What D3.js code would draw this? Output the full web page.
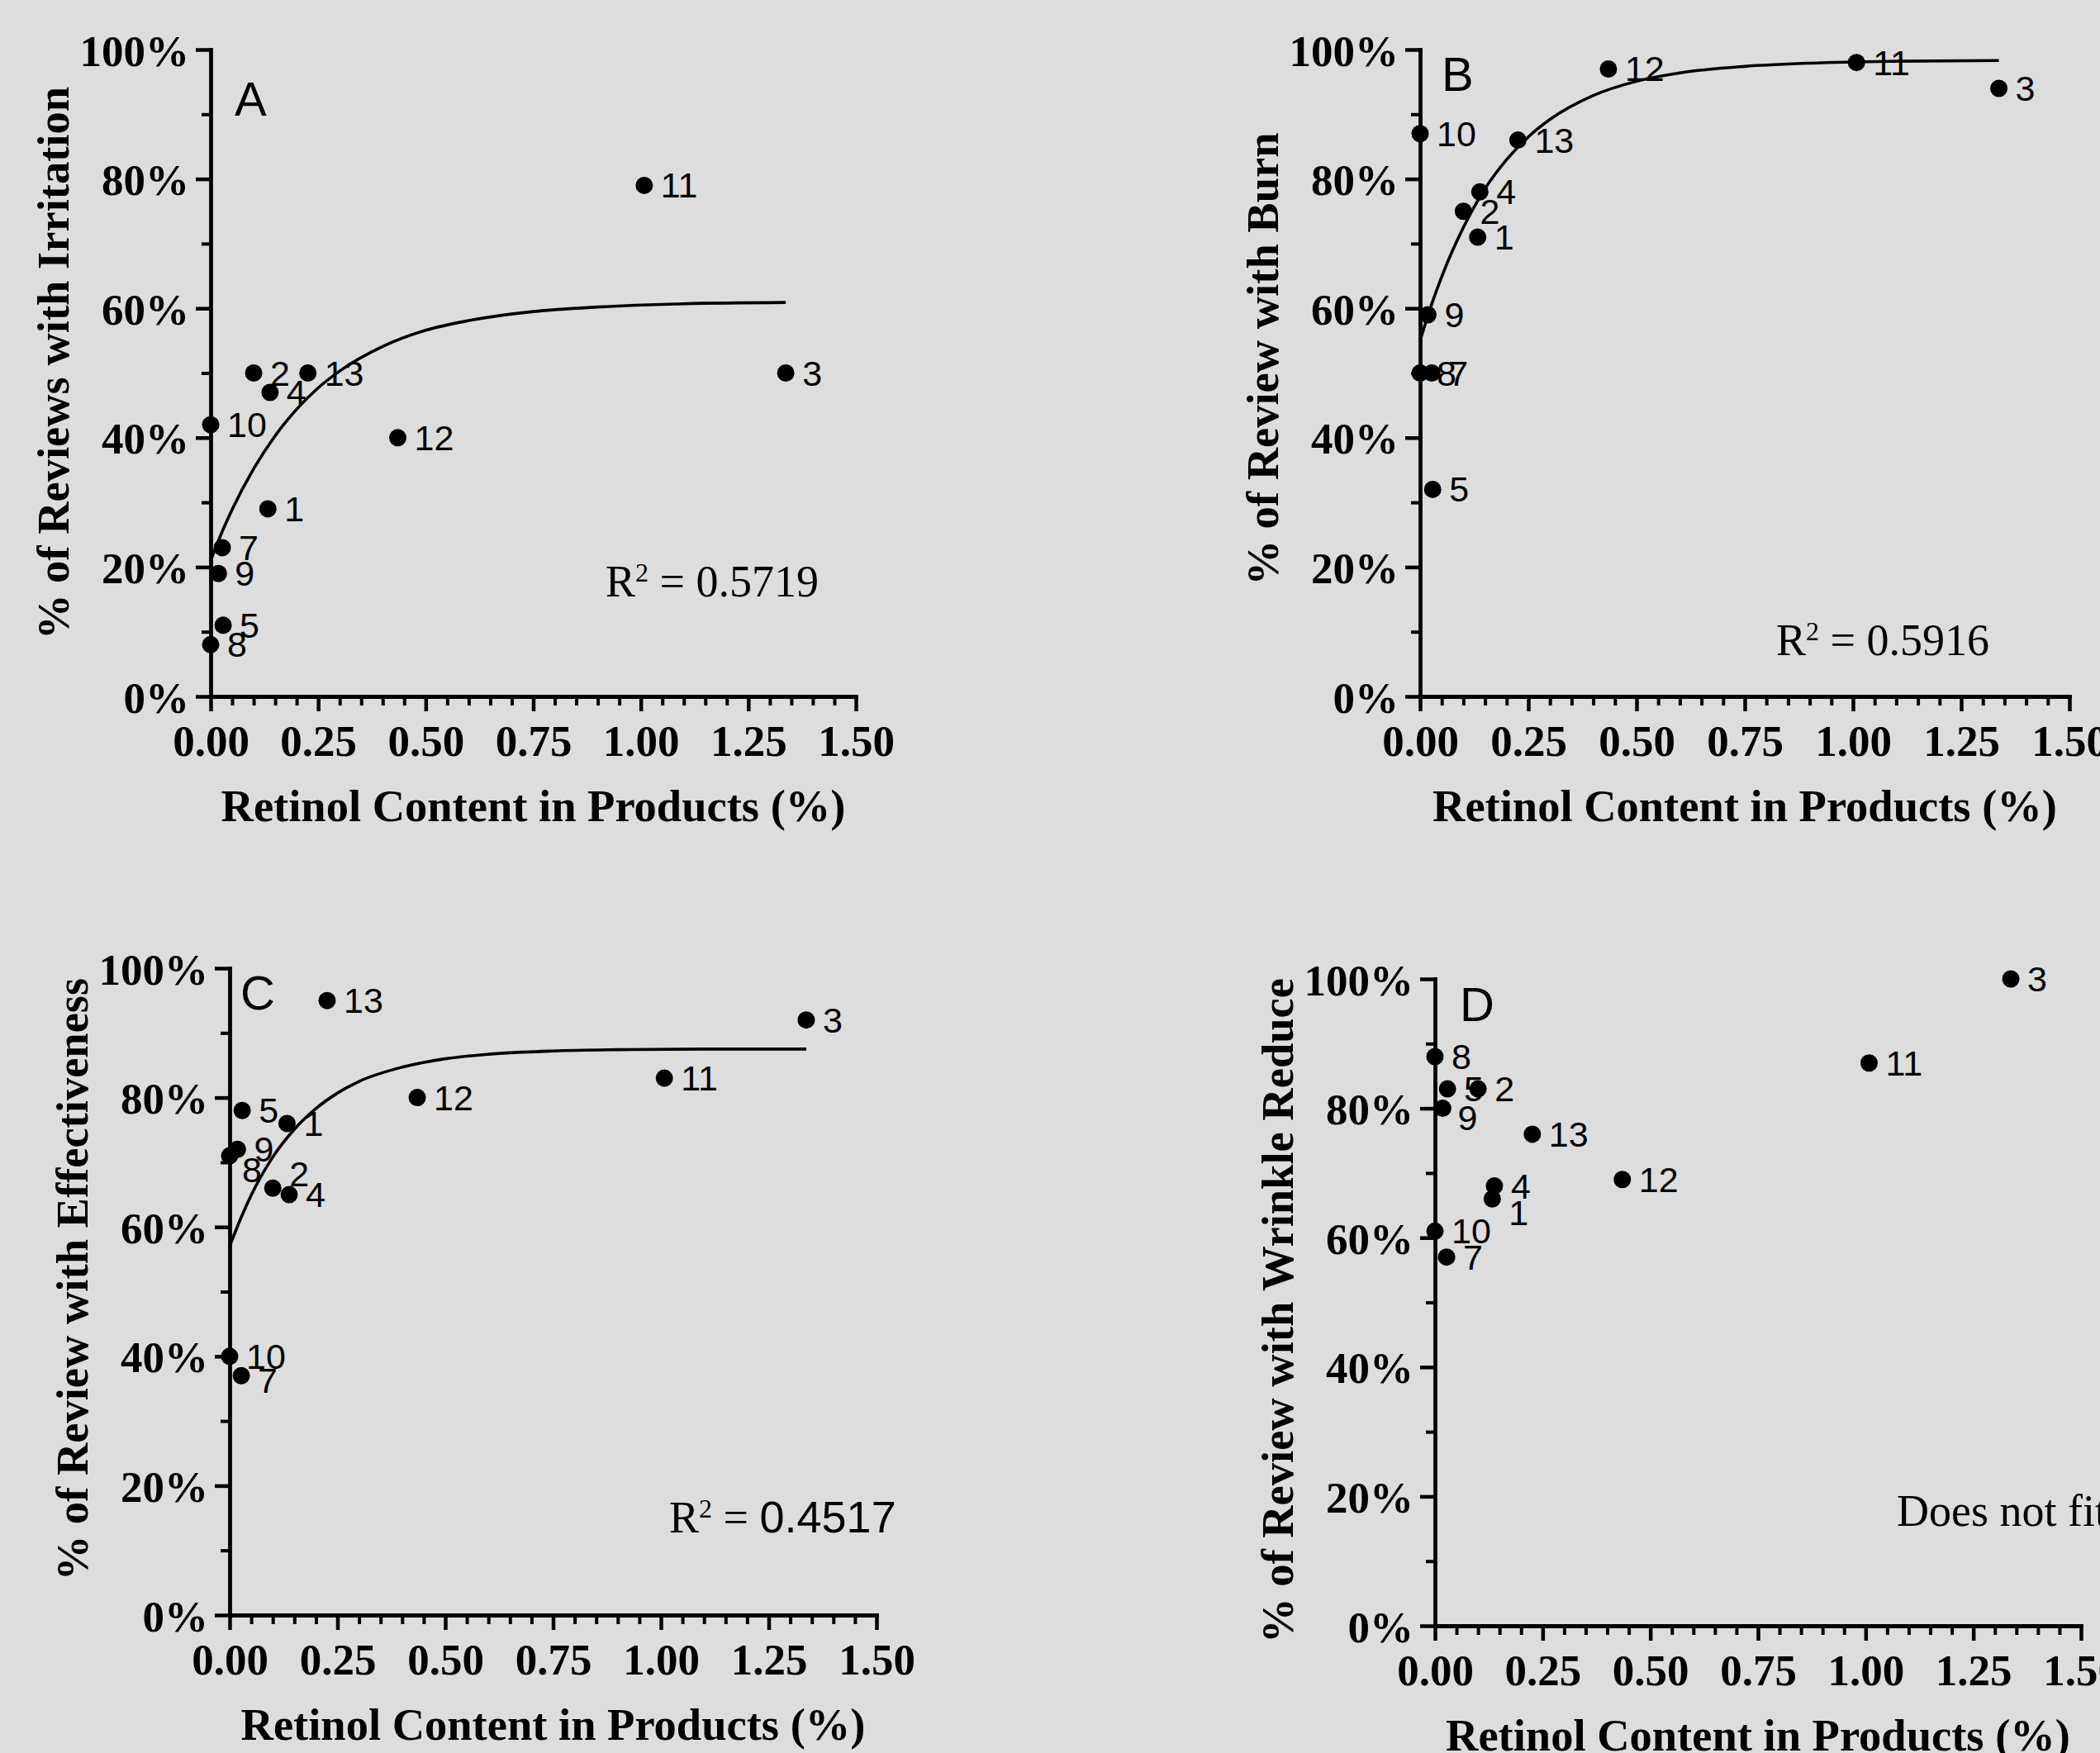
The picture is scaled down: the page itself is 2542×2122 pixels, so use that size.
<!DOCTYPE html>
<html>
<head>
<meta charset="utf-8">
<script src="https://cdn.jsdelivr.net/npm/d3@7.9.0/dist/d3.min.js"></script>
<style>
  html, body { margin: 0; padding: 0; background: #dddddd; }
  svg { display: block; }
</style>
</head>
<body>
<svg id="chart" width="2542" height="2122"></svg>
<script>
// products and their retinol content (%)
const products = [1, 2, 3, 4, 5, 7, 8, 9, 10, 11, 12, 13];
const retinol = [0.133, 0.100, 1.337, 0.138, 0.029, 0.027, 0.000, 0.018, 0.000, 1.008, 0.435, 0.226];

// % of reviews per panel
const irritation = [29, 50, 50, 47, 11, 23, 8, 19, 42, 79, 40, 50];
const burn = [71, 75, 94, 78, 32, 50, 50, 59, 87, 98, 97, 86];
const effectiveness = [76, 66, 92, 65, 78, 37, 71, 72, 40, 83, 80, 95];
const wrinkle = [66, 83, 100, 68, 83, 57, 88, 80, 61, 87, 69, 76];

// fitted curves
const fitX = [0, 0.025, 0.05, 0.1, 0.15, 0.2, 0.25, 0.3, 0.4, 0.5, 0.6, 0.75, 0.9, 1.1, 1.337];
const fitIrritation = [21.0, 25.2, 28.9, 35.2, 40.3, 44.4, 47.7, 50.3, 54.1, 56.6, 58.1, 59.5, 60.2, 60.7, 60.9];
const fitBurn = [55.0, 60.3, 64.9, 72.5, 78.5, 83.0, 86.5, 89.2, 92.9, 95.1, 96.4, 97.4, 97.9, 98.2, 98.3];
const fitEffect = [57.0, 61.2, 64.9, 70.8, 75.1, 78.3, 80.7, 82.5, 84.7, 86.0, 86.7, 87.2, 87.4, 87.5, 87.5];

const xTicks = [0, 0.25, 0.5, 0.75, 1, 1.25, 1.5];
const yTicks = [0, 20, 40, 60, 80, 100];

const SERIF = "'Liberation Serif', 'Times New Roman', serif";
const SANS = "'Liberation Sans', Arial, sans-serif";

const panels = [
  { letter: "A", title: "% of Reviews with Irritation", values: irritation, fit: fitIrritation,
    box: { x0: 255, x1: 1036, top: 60, bot: 843 }, letterPos: [29, 80], titleShift: -12,
    note: { r2: "0.5719", sansNum: false, dx: 478, dy: -121 } },
  { letter: "B", title: "% of Review with Burn", values: burn, fit: fitBurn,
    box: { x0: 1719, x1: 2505, top: 60, bot: 843 }, letterPos: [26, 50], titleShift: -17,
    note: { r2: "0.5916", sansNum: false, dx: 431, dy: -50 } },
  { letter: "C", title: "% of Review with Effectiveness", values: effectiveness, fit: fitEffect,
    box: { x0: 278, x1: 1061, top: 1172, bot: 1955 }, letterPos: [13, 50], titleShift: -15,
    note: { r2: "0.4517", sansNum: true, dx: 532, dy: -100 },
    nudge: { 8: [15, 32], 2: [20, -2], 7: [20, 21] } },
  { letter: "D", title: "% of Review with Wrinkle Reduce", values: wrinkle, fit: null,
    box: { x0: 1737, x1: 2519, top: 1185, bot: 1968 }, letterPos: [30, 51], titleShift: 10,
    note: { text: "Does not fit", dx: 559, dy: -121 },
    nudge: { 9: [18, 26], 1: [20, 32] } }
];

const svg = d3.select("#chart");
svg.append("rect").attr("width", 2542).attr("height", 2122).attr("fill", "#dddddd");

function drawPanel(p) {
  const b = p.box;
  const x = d3.scaleLinear().domain([0, 1.5]).range([b.x0, b.x1]);
  const y = d3.scaleLinear().domain([0, 100]).range([b.bot, b.top]);
  const g = svg.append("g");

  // minor ticks
  const xMinor = d3.range(0, 1.5001, 0.05).filter(v => Math.abs(v / 0.25 - Math.round(v / 0.25)) > 1e-6);
  g.append("g")
    .attr("transform", `translate(0,${b.bot})`)
    .call(d3.axisBottom(x).tickValues(xMinor).tickSize(11).tickSizeOuter(0).tickFormat(""))
    .call(a => a.select(".domain").remove())
    .call(a => a.selectAll("line").attr("stroke", "#000").attr("stroke-width", 4));
  g.append("g")
    .attr("transform", `translate(${b.x0},0)`)
    .call(d3.axisLeft(y).tickValues([10, 30, 50, 70, 90]).tickSize(11).tickSizeOuter(0).tickFormat(""))
    .call(a => a.select(".domain").remove())
    .call(a => a.selectAll("line").attr("stroke", "#000").attr("stroke-width", 4));

  // x axis
  g.append("g")
    .attr("transform", `translate(0,${b.bot})`)
    .call(d3.axisBottom(x).tickValues(xTicks).tickSize(18).tickSizeOuter(0).tickFormat(d3.format(".2f")))
    .call(a => a.select(".domain").attr("stroke", "#000").attr("stroke-width", 4.8))
    .call(a => a.selectAll("line").attr("stroke", "#000").attr("stroke-width", 4.5))
    .call(a => a.selectAll("text")
      .attr("y", 72).attr("dy", null)
      .attr("fill", "#000")
      .attr("font-family", SERIF).attr("font-weight", "bold").attr("font-size", 53));

  // y axis
  g.append("g")
    .attr("transform", `translate(${b.x0},0)`)
    .call(d3.axisLeft(y).tickValues(yTicks).tickSize(18).tickSizeOuter(0).tickFormat(d => d + "%"))
    .call(a => a.select(".domain").attr("stroke", "#000").attr("stroke-width", 4.8))
    .call(a => a.selectAll("line").attr("stroke", "#000").attr("stroke-width", 4.5))
    .call(a => a.selectAll("text")
      .attr("x", -26).attr("dy", "0.36em")
      .attr("fill", "#000")
      .attr("font-family", SERIF).attr("font-weight", "bold").attr("font-size", 53));

  g.selectAll(".domain").attr("stroke-linecap", "square");

  // axis titles
  g.append("text")
    .attr("x", (b.x0 + b.x1) / 2).attr("y", b.bot + 151)
    .attr("text-anchor", "middle")
    .attr("font-family", SERIF).attr("font-weight", "bold").attr("font-size", 54.5)
    .text("Retinol Content in Products (%)");

  g.append("text")
    .attr("transform", `translate(${b.x0 - 172},${(b.top + b.bot) / 2 + p.titleShift}) rotate(-90)`)
    .attr("text-anchor", "middle")
    .attr("font-family", SERIF).attr("font-weight", "bold").attr("font-size", 54.5)
    .text(p.title);

  // panel letter
  g.append("text")
    .attr("x", b.x0 + p.letterPos[0]).attr("y", b.top + p.letterPos[1])
    .attr("font-family", SANS).attr("font-size", 58)
    .text(p.letter);

  // fitted curve
  if (p.fit) {
    const line = d3.line()
      .x((d, i) => x(fitX[i]))
      .y(d => y(d))
      .curve(d3.curveMonotoneX);
    g.append("path")
      .attr("d", line(p.fit))
      .attr("fill", "none")
      .attr("stroke", "#000")
      .attr("stroke-width", 3.6);
  }

  // points
  const pts = products.map((id, i) => ({ id, x: retinol[i], y: p.values[i] }));
  g.selectAll("circle.pt")
    .data(pts)
    .join("circle")
    .attr("class", "pt")
    .attr("cx", d => x(d.x))
    .attr("cy", d => y(d.y))
    .attr("r", 10.5)
    .attr("fill", "#000");

  const nudge = p.nudge || {};
  g.selectAll("text.lbl")
    .data(pts)
    .join("text")
    .attr("class", "lbl")
    .attr("x", d => x(d.x) + (nudge[d.id] ? nudge[d.id][0] : 20))
    .attr("y", d => y(d.y) + (nudge[d.id] ? nudge[d.id][1] : 15))
    .attr("font-family", SANS).attr("font-size", 43)
    .text(d => d.id);

  // note (R² or no fit)
  const n = p.note;
  const t = g.append("text")
    .attr("x", b.x0 + n.dx).attr("y", b.bot + n.dy)
    .attr("font-family", SERIF).attr("font-size", 54);
  if (n.text) {
    t.text(n.text);
  } else {
    t.append("tspan").text("R");
    t.append("tspan").attr("font-size", 32).attr("dy", -18).text("2");
    t.append("tspan").attr("dy", 18).text(" = ");
    t.append("tspan").attr("font-family", n.sansNum ? SANS : SERIF).text(n.r2);
  }
}

panels.forEach(drawPanel);
</script>
</body>
</html>
